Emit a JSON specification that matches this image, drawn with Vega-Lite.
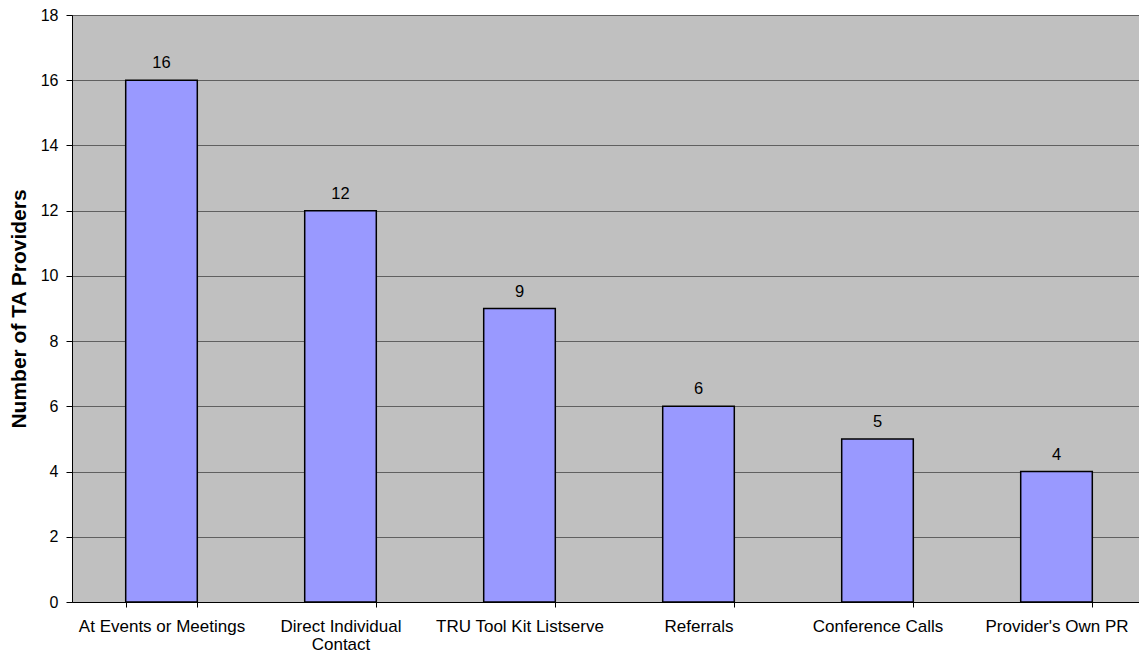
{
  "$schema": "https://vega.github.io/schema/vega-lite/v6.json",
  "autosize": "none",
  "padding": {"left": 72, "top": 15, "right": 0, "bottom": 56},
  "width": 1074,
  "height": 587,
  "background": "white",
  "config": {
    "view": {"fill": "#C0C0C0", "stroke": "#606060", "strokeWidth": 1},
    "font": "Liberation Sans"
  },
  "data": {
    "values": [
      {"channel": "At Events or Meetings", "providers": 16},
      {"channel": "Direct Individual Contact", "providers": 12},
      {"channel": "TRU Tool Kit Listserve", "providers": 9},
      {"channel": "Referrals", "providers": 6},
      {"channel": "Conference Calls", "providers": 5},
      {"channel": "Provider's Own PR", "providers": 4}
    ]
  },
  "encoding": {
    "x": {
      "field": "channel",
      "type": "nominal",
      "sort": null,
      "scale": {"paddingInner": 0.6, "paddingOuter": 0.3},
      "axis": {
        "title": null,
        "labelAngle": 0,
        "labelFontSize": 17,
        "labelColor": "black",
        "labelPadding": 11,
        "labelLineHeight": 18,
        "labelExpr": "datum.value == 'Direct Individual Contact' ? ['Direct Individual', 'Contact'] : datum.value",
        "tickBand": "extent",
        "tickColor": "black",
        "tickSize": 5,
        "domainColor": "black",
        "domainWidth": 1,
        "grid": false
      }
    },
    "y": {
      "field": "providers",
      "type": "quantitative",
      "scale": {"domain": [0, 18], "nice": false},
      "axis": {
        "title": "Number of TA Providers",
        "titleFontSize": 21,
        "titleFontWeight": "bold",
        "titleColor": "black",
        "titlePadding": 11,
        "values": [0, 2, 4, 6, 8, 10, 12, 14, 16, 18],
        "labelFontSize": 16,
        "labelColor": "black",
        "labelPadding": 8,
        "tickColor": "black",
        "tickSize": 6,
        "domainColor": "black",
        "gridColor": "#606060",
        "gridWidth": 1,
        "gridOpacity": 1
      }
    }
  },
  "layer": [
    {
      "mark": {"type": "bar", "fill": "#9999FF", "stroke": "black", "strokeWidth": 1.5}
    },
    {
      "mark": {"type": "text", "baseline": "alphabetic", "dy": -12, "fontSize": 16.5, "color": "black"},
      "encoding": {"text": {"field": "providers", "type": "quantitative"}}
    }
  ]
}
